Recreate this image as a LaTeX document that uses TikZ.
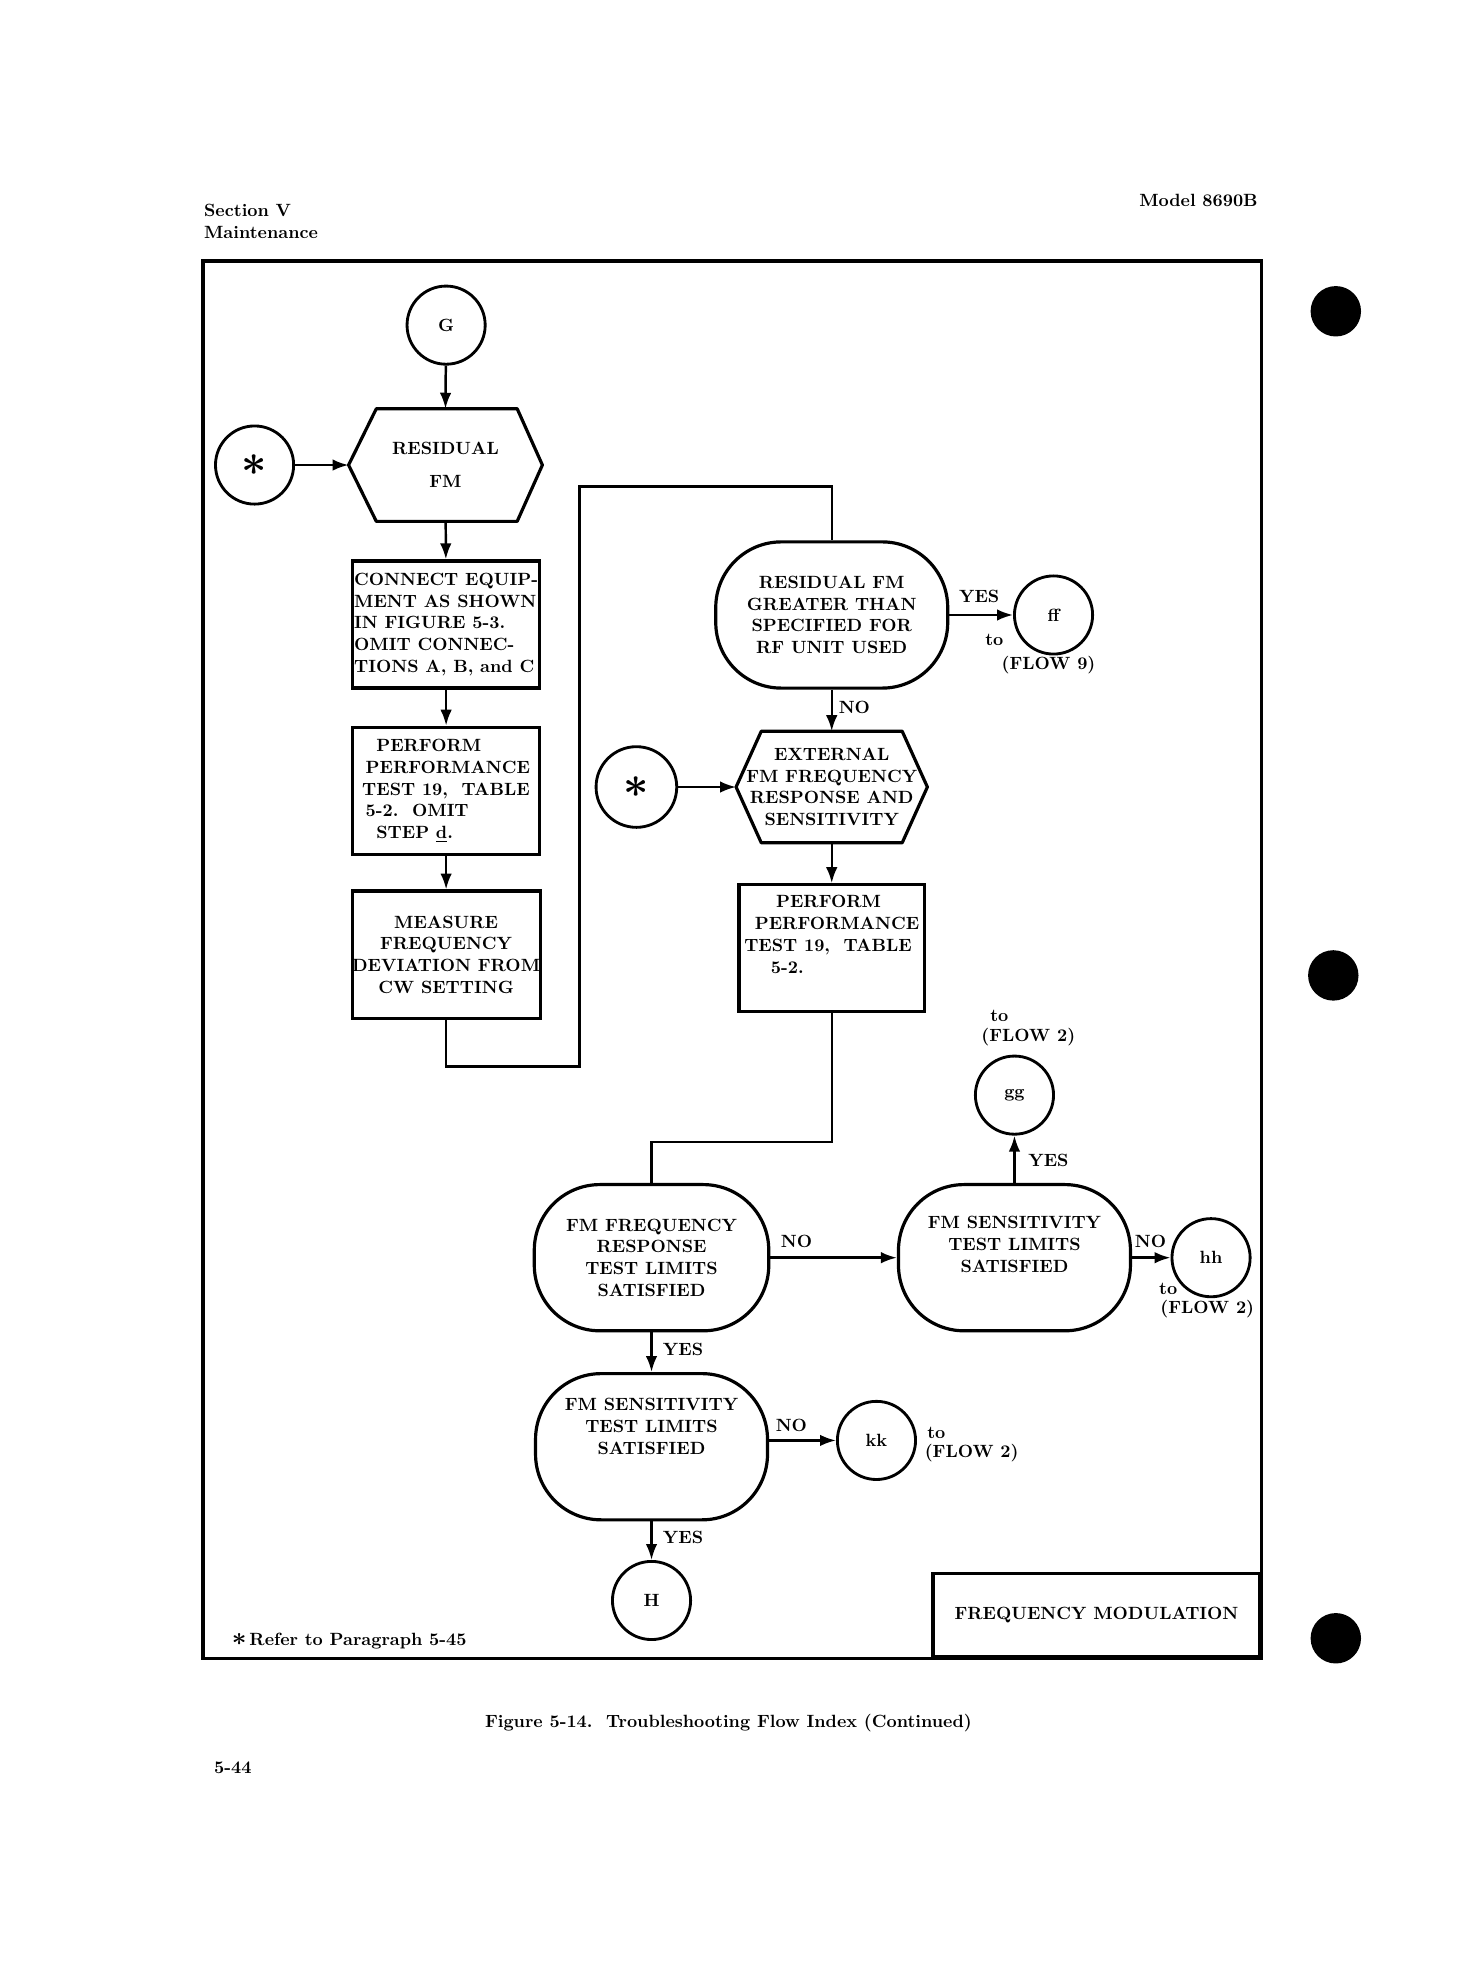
\documentclass[tikz,border=0pt]{standalone}
\usepackage{xcolor}
\usepackage{amsmath}
\usepackage{amssymb}
\usetikzlibrary{shapes.geometric, arrows.meta, positioning}

\newcommand{\flowfont}{\fontsize{10}{12.3}\selectfont\bfseries}
\newcommand{\bigast}{{\fontsize{28}{28}\selectfont\boldmath$\ast$}}

\begin{document}
\begin{tikzpicture}[x=0.025cm, y=-0.025cm, every node/.style={font=\flowfont}, align=center,
  >={Latex[length=9pt, width=6.5pt]},
  conn/.style={circle, draw, line width=1.6pt, minimum size=1.55cm, inner sep=0pt},
  stepbox/.style={rectangle, draw, line width=1.8pt, minimum width=3.7cm, minimum height=2.52cm, inner xsep=0pt, inner ysep=2pt},
  decide/.style={rectangle, draw, line width=1.8pt, rounded corners=1.3cm, minimum width=4.6cm, minimum height=2.9cm},
  hexnode/.style={rectangle, inner sep=0pt},
  shapeline/.style={line width=1.8pt, line join=round},
  flow/.style={->, line width=1.4pt},
  wire/.style={line width=1.4pt}]
  \useasboundingbox (0,0) rectangle (1170,1568);

  % page heading
  \node (section) [anchor=north west, align=left] at (157,157) {Section V\\Maintenance};
  \node (model) [anchor=north east] at (1003,149) {Model 8690B};

  % left column
  \node (g) [conn] at (354,258) {G};
  \node (resfm) [hexnode, minimum width=3.83cm, minimum height=2.22cm] at (353.5,369) {RESIDUAL\\[6pt]FM};
  \node (star1) [conn] at (202,369) {\bigast};
  \node (connect) [stepbox, align=left] at (354,495.5)
    {CONNECT EQUIP-\\MENT AS SHOWN\\IN FIGURE 5-3.\\OMIT CONNEC-\\TIONS A, B, and C};
  \node (perform) [stepbox, align=left] at (354,627.5)
    {\hspace*{8pt}PERFORM\\\hspace*{2pt}PERFORMANCE\\TEST 19,\ \ TABLE\\\hspace*{2pt}5-2.\ \ OMIT\\\hspace*{8pt}STEP \underline{d}.};
  \node (measure) [stepbox] at (354,757.5)
    {MEASURE\\FREQUENCY\\DEVIATION FROM\\CW SETTING};

  % right column
  \node (resid) [decide] at (660,488) {RESIDUAL FM\\GREATER THAN\\SPECIFIED FOR\\RF UNIT USED};
  \node (ff) [conn] at (836,488) {ff};
  \node (extfm) [hexnode, minimum width=3.78cm, minimum height=2.2cm] at (660,624.5)
    {EXTERNAL\\FM FREQUENCY\\RESPONSE AND\\SENSITIVITY};
  \node (star2) [conn, minimum size=1.6cm] at (505,624.5) {\bigast};
  \node (perform2) [stepbox, minimum width=3.68cm, align=left, text depth=16pt] at (660,752.5)
    {\hspace*{18pt}PERFORM\\\hspace*{6pt}PERFORMANCE\\TEST 19,\ \ TABLE\\\hspace*{15pt}5-2.};

  % lower part
  \node (fmresp) [decide, minimum width=4.65cm] at (517,998) {FM FREQUENCY\\RESPONSE\\TEST LIMITS\\SATISFIED};
  \node (fmsens) [decide, text depth=15pt] at (805,998) {FM SENSITIVITY\\TEST LIMITS\\SATISFIED};
  \node (gg) [conn] at (805,869) {gg};
  \node (hh) [conn] at (961,998) {hh};
  \node (fmsens2) [decide, text depth=23pt] at (517,1148) {FM SENSITIVITY\\TEST LIMITS\\SATISFIED};
  \node (kk) [conn] at (695.5,1143) {kk};
  \node (h) [conn] at (517,1270) {H};

  % hexagon outlines
  \draw [shapeline] (resfm.west) -- ([xshift=0.55cm]resfm.north west) -- ([xshift=-0.5cm]resfm.north east)
    -- (resfm.east) -- ([xshift=-0.5cm]resfm.south east) -- ([xshift=0.55cm]resfm.south west) -- cycle;
  \draw [shapeline] (extfm.west) -- ([xshift=0.5cm]extfm.north west) -- ([xshift=-0.5cm]extfm.north east)
    -- (extfm.east) -- ([xshift=-0.5cm]extfm.south east) -- ([xshift=0.5cm]extfm.south west) -- cycle;

  % connectors
  \draw [flow] (g) -- (resfm.north);
  \draw [flow] (star1) -- (resfm.west);
  \draw [flow] (resfm) -- (connect);
  \draw [flow] (connect) -- (perform);
  \draw [flow] (perform) -- (measure);
  \draw [wire] (measure.south) -- ++(0,37) -| (460,386) -| (resid.north);
  \draw [flow] (resid) -- (ff);
  \draw [flow] (resid) -- (extfm.north);
  \draw [flow] (star2) -- (extfm.west);
  \draw [flow] (extfm.south) -- (perform2);
  \draw [wire] (perform2.south) -- ++(0,102) -| (fmresp.north);
  \draw [flow] (fmresp) -- (fmsens);
  \draw [flow] (fmsens) -- (gg);
  \draw [flow] (fmsens) -- (hh);
  \draw [flow] (fmresp) -- (fmsens2);
  \draw [flow] (fmsens2.east |- kk) -- (kk);
  \draw [flow] (fmsens2) -- (h);

  % connector labels
  \node (yes1) at (777,473) {YES};
  \node (to9) at (789,508) {to};
  \node (flow9) at (832,528) {(FLOW 9)};
  \node (no1) at (678,561) {NO};
  \node (to2a) at (793,806) {to};
  \node (flow2a) at (816,823) {(FLOW 2)};
  \node (yes2) at (832,921) {YES};
  \node (no2) at (632,985) {NO};
  \node (no3) at (913,985) {NO};
  \node (to2b) at (927,1023) {to};
  \node (flow2b) at (958,1039) {(FLOW 2)};
  \node (yes3) at (542,1071) {YES};
  \node (no4) at (628,1131) {NO};
  \node (to2c) at (743,1137) {to};
  \node (flow2c) at (771,1153) {(FLOW 2)};
  \node (yes4) at (542,1220) {YES};

  % frame, title block and captions
  \draw [line width=2pt] (161,207) rectangle (1001,1316);
  \node (fmtitle) [draw, line width=2pt, minimum width=6.475cm, minimum height=1.65cm, anchor=south east] at (1001,1316) {FREQUENCY MODULATION};
  \node (refer) [anchor=west] at (179,1302) {{\Large\boldmath$\ast$}\,Refer to Paragraph 5-45};
  \node (caption) at (578,1367) {Figure 5-14.\ \ Troubleshooting Flow Index (Continued)};
  \node (pageno) [anchor=west] at (165,1403) {5-44};

  % binder holes
  \fill (1060,247) circle [radius=0.5cm];
  \fill (1058,774) circle [radius=0.5cm];
  \fill (1060,1300) circle [radius=0.5cm];
\end{tikzpicture}
\end{document}
